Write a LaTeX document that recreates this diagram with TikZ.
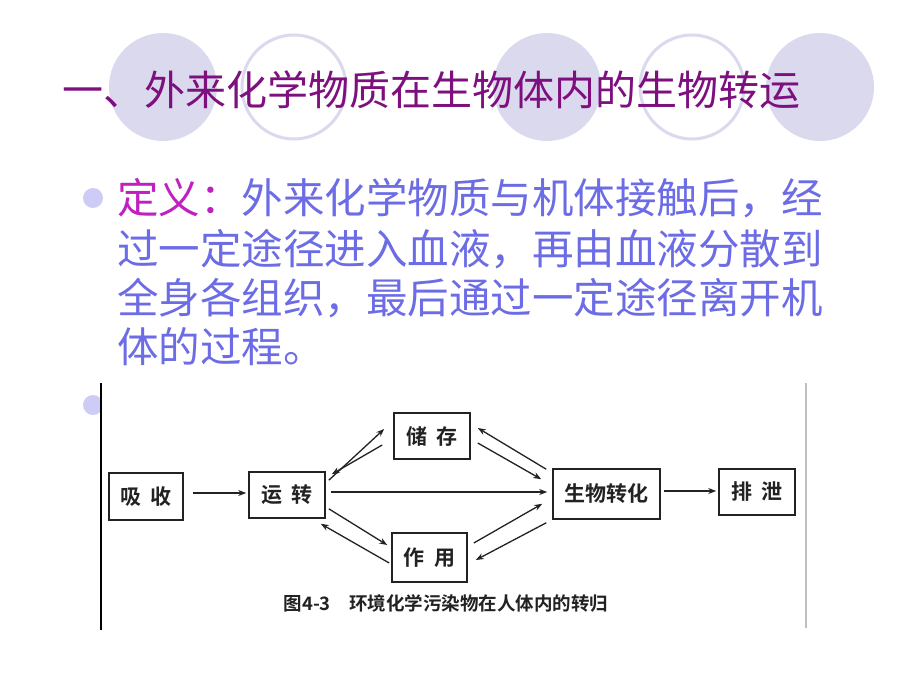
\documentclass[tikz,border=0pt]{standalone}
\usepackage{fontspec}
\setmainfont{Noto Sans CJK SC}[BoldFont={Noto Sans CJK SC Bold}]
\usetikzlibrary{arrows.meta}
\definecolor{titlec}{HTML}{7E0F7E}
\definecolor{defc}{HTML}{C020C0}
\definecolor{bodyc}{HTML}{6C6CE6}
\definecolor{deco}{HTML}{DBD9EE}
\definecolor{bulc}{HTML}{CCCCF7}
\definecolor{ink}{HTML}{222222}
\tikzset{
  decofill/.style={fill=deco, draw=none},
  decoring/.style={draw=deco, line width=3pt},
  bul/.style={fill=bulc, draw=none},
  box/.style={draw=ink, line width=1.6pt, inner sep=0pt, text=ink, font=\fontsize{21}{24}\selectfont\bfseries},
  arr/.style={draw=ink, line width=1.3pt, -{Stealth[length=8pt,width=6pt]}},
  body/.style={anchor=west, inner sep=0pt, text=bodyc, font=\fontsize{41.5}{48}\selectfont}
}
\begin{document}
\begin{tikzpicture}[x=1pt,y=-1pt]
\useasboundingbox (0,0) rectangle (920,690);
\fill[white] (0,0) rectangle (920,690);
% decorative circles
\fill[decofill] (163,87) circle (54);
\draw[decoring] (294,87) circle (52);
\fill[decofill] (547,87) circle (54);
\draw[decoring] (692,87) circle (52);
\fill[decofill] (820,87) circle (54);
% title
\node[anchor=west, inner sep=0pt, text=titlec, font=\fontsize{41}{48}\selectfont] (title) at (62,90) {一、外来化学物质在生物体内的生物转运};
% bullets
\fill[bul] (93,198) circle (10);
\fill[bul] (93,405) circle (10);
\node[body] (l1) at (117,198) {\textcolor{defc}{定义：}外来化学物质与机体接触后，经};
\node[body] (l2) at (117,249) {过一定途径进入血液，再由血液分散到};
\node[body] (l3) at (117,298) {全身各组织，最后通过一定途径离开机};
\node[body] (l4) at (117,347) {体的过程。};
% embedded figure
\fill[white] (101,381) rectangle (806,630);
\draw[black, line width=1.3pt] (101,383) -- (101,630);
\draw[black!25, line width=1.5pt] (806,383) -- (806,628);
% boxes
\node[box, minimum width=74pt, minimum height=47pt] (xs) at (146,496.5) {吸\hspace{0.45em}收};
\node[box, minimum width=76pt, minimum height=46pt] (yz) at (287,495) {运\hspace{0.45em}转};
\node[box, minimum width=76pt, minimum height=46pt] (cc) at (432,436) {储\hspace{0.45em}存};
\node[box, minimum width=75pt, minimum height=49pt] (zy) at (429.5,557.5) {作\hspace{0.45em}用};
\node[box, minimum width=107pt, minimum height=50pt] (sw) at (606.5,494) {生物转化};
\node[box, minimum width=76pt, minimum height=46pt] (px) at (757,492) {排\hspace{0.45em}泄};
% caption
\node[inner sep=0pt, text=ink, font=\fontsize{18.5}{22}\selectfont\bfseries] (cap) at (446,603) {图4-3\hspace{1em}环境化学污染物在人体内的转归};
% arrows
\draw[arr] ([xshift=9pt,yshift=3.5pt]xs.east) -- ([xshift=-2pt,yshift=2pt]yz.west);
\draw[arr] ([xshift=5pt,yshift=3pt]yz.east) -- ([xshift=-5pt,yshift=2pt]sw.west);
\draw[arr] ([xshift=3pt,yshift=3pt]sw.east) -- ([xshift=-2pt,yshift=1pt]px.west);
% yz <-> cc
\draw[arr] ([xshift=3pt,yshift=-9pt]yz.north east) -- ([xshift=-9pt,yshift=7pt]cc.west);
\draw[arr] ([xshift=-11pt,yshift=-9pt]cc.west) -- ([xshift=6pt,yshift=-3pt]yz.north east);
% cc <-> sw
\draw[arr] ([xshift=-6pt,yshift=-1pt]sw.north west) -- ([xshift=7pt,yshift=8pt]cc.east);
\draw[arr] ([xshift=7pt,yshift=-7pt]cc.east) -- ([xshift=-11pt,yshift=-11pt]sw.north west);
% yz <-> zy
\draw[arr] ([xshift=3pt,yshift=10pt]yz.south east) -- ([xshift=-4pt,yshift=12.5pt]zy.west);
\draw[arr] ([xshift=-2pt,yshift=-5.5pt]zy.west) -- ([xshift=-5pt,yshift=-5pt]yz.south east);
% zy <-> sw
\draw[arr] ([xshift=6pt,yshift=14.5pt]zy.east) -- ([xshift=-10pt,yshift=16pt]sw.south west);
\draw[arr] ([xshift=-6pt,yshift=-3pt]sw.south west) -- ([xshift=8pt,yshift=-2.5pt]zy.east);
\end{tikzpicture}
\end{document}
